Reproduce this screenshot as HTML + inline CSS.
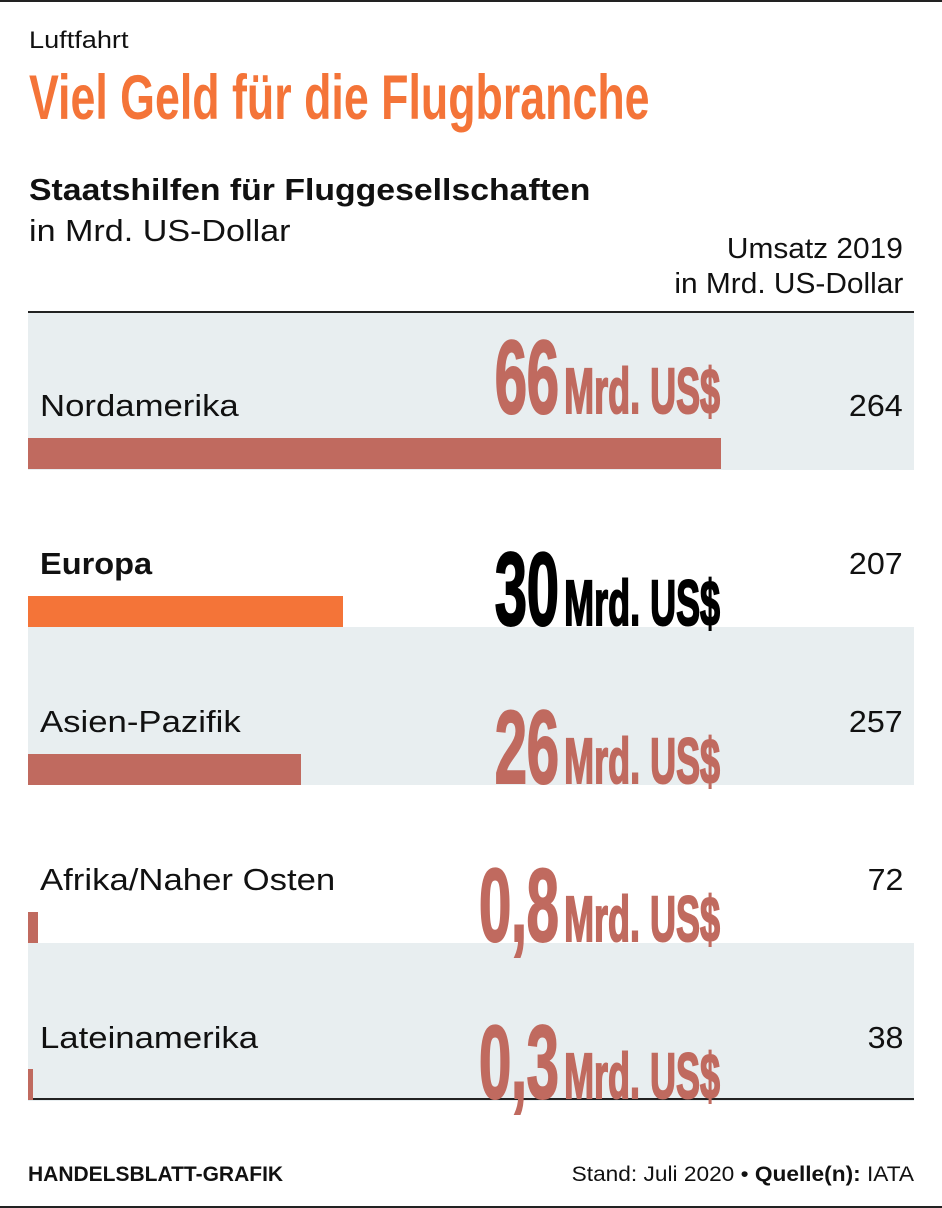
<!DOCTYPE html>
<html><head><meta charset="utf-8"><style>
body{margin:0;width:942px;height:1208px;position:relative;background:#fff;font-family:"Liberation Sans",sans-serif;color:#111;overflow:hidden}
.t{position:absolute;white-space:nowrap;line-height:1;transform-origin:left top}
.r{transform-origin:right top;text-align:right}
.row{position:absolute;left:28px;width:886px;height:158px}
.g{background:#e8eef0}
.bar{position:absolute;left:28px;height:31px;background:#c06a5f}
.big{position:absolute;right:222px;white-space:nowrap;line-height:112px;font-weight:bold;color:#c06a5f;transform:scaleX(0.562);transform-origin:right top;-webkit-text-stroke:2px currentColor}
.big .n{font-size:104px;letter-spacing:-1px}
.big .m{font-size:64px;margin-left:10px}
.lab{font-size:31px;left:40px}
.val{font-size:31px;right:39px}
</style></head><body>
<div style="position:absolute;left:0;top:0;width:942px;height:2px;background:#222"></div>
<div style="position:absolute;left:0;top:1206px;width:942px;height:2px;background:#222"></div>

<div class="t" style="left:29px;top:29px;font-size:24px;transform:scaleX(1.13)">Luftfahrt</div>
<div class="t" style="left:29px;top:67px;font-size:63px;font-weight:bold;color:#f47438;transform:scaleX(0.71)">Viel Geld für die Flugbranche</div>
<div class="t" style="left:29px;top:174px;font-size:31px;font-weight:bold;transform:scaleX(1.09)">Staatshilfen für Fluggesellschaften</div>
<div class="t" style="left:29px;top:215px;font-size:31px;transform:scaleX(1.1)">in Mrd. US-Dollar</div>
<div class="t r" style="right:39px;top:235px;font-size:29px;transform:scaleX(1.03)">Umsatz 2019</div>
<div class="t r" style="right:39px;top:270px;font-size:29px;transform:scaleX(1.03)">in Mrd. US-Dollar</div>

<div class="row g" style="top:312px"></div>
<div class="row" style="top:469px"></div>
<div class="row g" style="top:627px"></div>
<div class="row" style="top:785px"></div>
<div class="row g" style="top:943px"></div>
<div style="position:absolute;left:28px;width:886px;top:311px;height:2px;background:#222"></div>
<div style="position:absolute;left:28px;width:886px;top:1098px;height:2px;background:#222"></div>

<div class="bar" style="top:438px;width:693px"></div>
<div class="bar" style="top:596px;width:315px;background:#f47438"></div>
<div class="bar" style="top:754px;width:273px"></div>
<div class="bar" style="top:912px;width:10px"></div>
<div class="bar" style="top:1069px;width:5px"></div>

<div class="t lab" style="top:390px;transform:scaleX(1.12)">Nordamerika</div>
<div class="t lab" style="top:548px;font-weight:bold;transform:scaleX(1.05)">Europa</div>
<div class="t lab" style="top:706px;transform:scaleX(1.12)">Asien-Pazifik</div>
<div class="t lab" style="top:864px;transform:scaleX(1.12)">Afrika/Naher Osten</div>
<div class="t lab" style="top:1022px;transform:scaleX(1.12)">Lateinamerika</div>

<div class="t r val" style="top:390px;transform:scaleX(1.04)">264</div>
<div class="t r val" style="top:548px;transform:scaleX(1.04)">207</div>
<div class="t r val" style="top:706px;transform:scaleX(1.04)">257</div>
<div class="t r val" style="top:864px;transform:scaleX(1.04)">72</div>
<div class="t r val" style="top:1022px;transform:scaleX(1.04)">38</div>

<div class="big" style="top:322px"><span class="n">66</span><span class="m">Mrd. US$</span></div>
<div class="big" style="top:534px;color:#000"><span class="n">30</span><span class="m">Mrd. US$</span></div>
<div class="big" style="top:692px"><span class="n">26</span><span class="m">Mrd. US$</span></div>
<div class="big" style="top:850px"><span class="n">0,8</span><span class="m">Mrd. US$</span></div>
<div class="big" style="top:1007px"><span class="n">0,3</span><span class="m">Mrd. US$</span></div>

<div class="t" style="left:28px;top:1164px;font-size:21px;font-weight:bold;transform:scaleX(1.0)">HANDELSBLATT-GRAFIK</div>
<div class="t r" style="right:28px;top:1164px;font-size:21px;transform:scaleX(1.08)">Stand: Juli 2020 • <b>Quelle(n):</b> IATA</div>
</body></html>
